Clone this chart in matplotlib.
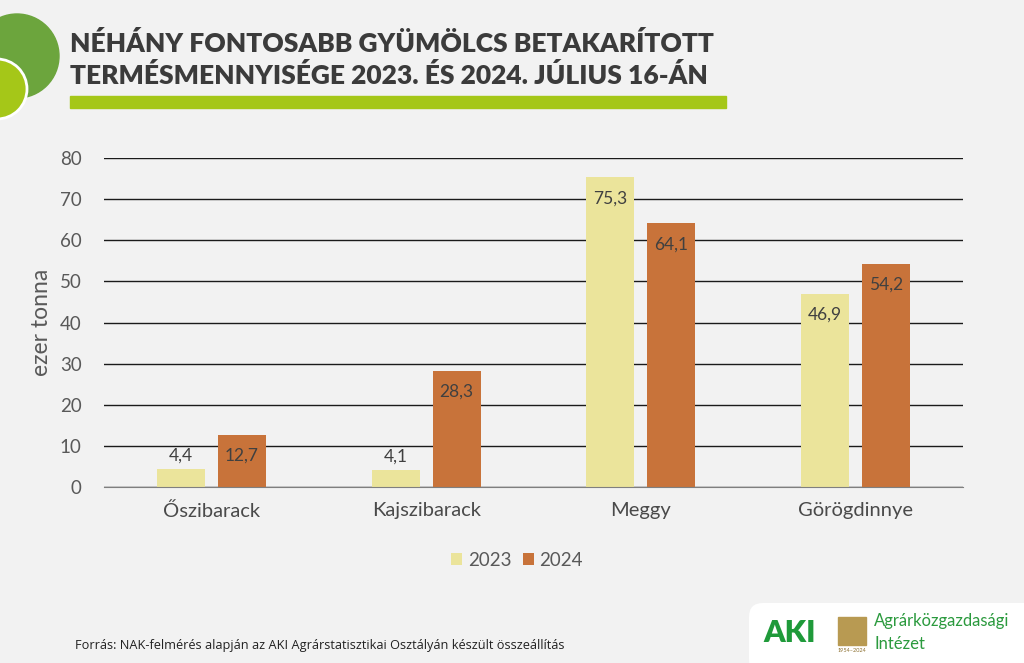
import numpy as np
import matplotlib.pyplot as plt
from matplotlib.patches import Circle, Rectangle, FancyBboxPatch

# data
categories = ["Őszibarack", "Kajszibarack", "Meggy", "Görögdinnye"]
years = ["2023", "2024"]
vals_2023 = [4.4, 4.1, 75.3, 46.9]
vals_2024 = [12.7, 28.3, 64.1, 54.2]
yticks = [0, 10, 20, 30, 40, 50, 60, 70, 80]

bg = "#f2f2f2"
c23 = "#ebe49b"
c24 = "#c8733a"
txt = "#595959"

plt.rcParams["font.family"] = ["Lato", "DejaVu Sans"]

fig = plt.figure(figsize=(10.24, 6.63), dpi=100, facecolor=bg)

# overlay for decorations, pixel coordinates
deco = fig.add_axes([0, 0, 1, 1], zorder=0)
deco.set_xlim(0, 1024)
deco.set_ylim(663, 0)
deco.axis("off")
deco.add_patch(Circle((17, 56), 42, color="#6ca53d", zorder=1))
deco.add_patch(Circle((-3, 89), 30, facecolor="#a5c718", edgecolor="white", lw=2, zorder=2))
deco.add_patch(Rectangle((70, 96), 656, 12, color="#a5c718", zorder=1))
deco.text(70, 44, "NÉHÁNY FONTOSABB GYÜMÖLCS BETAKARÍTOTT", fontsize=19,
          fontweight="heavy", color="#3b3b3b", va="center", ha="left")
deco.text(70, 75, "TERMÉSMENNYISÉGE 2023. ÉS 2024. JÚLIUS 16-ÁN", fontsize=19,
          fontweight="heavy", color="#3b3b3b", va="center", ha="left")
deco.text(75, 645, "Forrás: NAK-felmérés alapján az AKI Agrárstatisztikai Osztályán készült összeállítás",
          fontsize=9.2, color="#222222", va="center", ha="left",
          family=["Open Sans", "DejaVu Sans"])

# logo box
deco.add_patch(FancyBboxPatch((752, 606), 290, 70, boxstyle="round,pad=0,rounding_size=14",
                              facecolor="#d4d4d4", edgecolor="none", zorder=1))
deco.add_patch(FancyBboxPatch((749, 603), 290, 70, boxstyle="round,pad=0,rounding_size=14",
                              facecolor="white", edgecolor="none", zorder=2))
deco.text(763, 633, "AKI", fontsize=22, fontweight="heavy", color="#1f9a3a",
          va="center", ha="left", zorder=3)
deco.add_patch(Rectangle((838, 617), 28, 28, color="#b89a52", zorder=3))
deco.text(852, 651, "1954–2024", fontsize=4, color="#8a6d2c", ha="center", va="center", zorder=3)
deco.text(874, 621, "Agrárközgazdasági", fontsize=12, color="#2b9a3e",
          va="center", ha="left", zorder=3)
deco.text(874, 644, "Intézet", fontsize=12, color="#2b9a3e",
          va="center", ha="left", zorder=3)

# main chart
ax = fig.add_axes([104 / 1024, 1 - 487 / 663, 859 / 1024, 329 / 663], zorder=2)
ax.set_facecolor("none")
x = np.arange(len(categories))
w = 0.223
off = 0.142
b1 = ax.bar(x - off, vals_2023, w, color=c23, zorder=3, label=years[0])
b2 = ax.bar(x + off, vals_2024, w, color=c24, zorder=3, label=years[1])

for bars, vals in [(b1, vals_2023), (b2, vals_2024)]:
    for rect, v in zip(bars, vals):
        s = f"{v:.1f}".replace(".", ",")
        cx = rect.get_x() + rect.get_width() / 2
        if v < 8:
            ax.annotate(s, (cx, v), xytext=(0, 4), textcoords="offset points",
                        ha="center", va="bottom", fontsize=12.5, color="#404040", zorder=4)
        else:
            ax.annotate(s, (cx, v), xytext=(0, -15), textcoords="offset points",
                        ha="center", va="center", fontsize=12.5, color="#404040", zorder=4)

ax.set_xlim(-0.5, 3.5)
ax.set_ylim(0, 80)
ax.set_yticks(yticks)
ax.set_yticklabels([str(t) for t in yticks])
ax.set_xticks(x)
ax.set_xticklabels(categories)
ax.tick_params(axis="y", length=0, labelsize=13.5, colors=txt, pad=16)
ax.tick_params(axis="x", length=0, labelsize=14.5, colors="#4a4a4a", pad=11)
ax.grid(axis="y", color="#1a1a1a", lw=1, zorder=1)
for sp in ["top", "right", "left"]:
    ax.spines[sp].set_visible(False)
ax.spines["bottom"].set_color("#7f7f7f")
ax.spines["bottom"].set_zorder(5)
ax.set_ylabel("ezer tonna", fontsize=16.5, color=txt, labelpad=6)

fig.legend(handles=[b1, b2], labels=years, loc="center", bbox_to_anchor=(517 / 1024, 1 - 560 / 663),
           ncol=2, frameon=False, fontsize=13.5, labelcolor=txt, handlelength=0.6, handleheight=0.6,
           handletextpad=0.3, columnspacing=0.6)

fig.savefig("out.png", dpi=100, facecolor=bg)
